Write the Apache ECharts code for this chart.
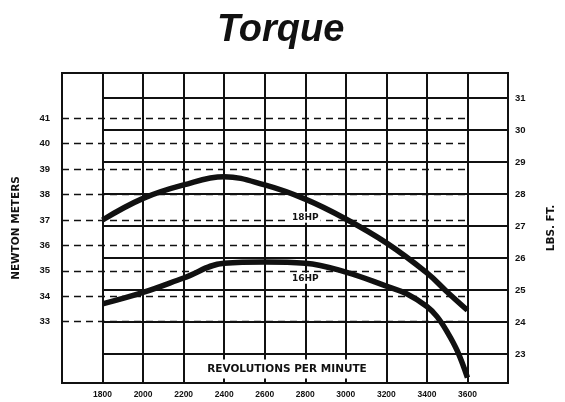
<!DOCTYPE html>
<html>
<head>
<meta charset="utf-8">
<script src="https://cdn.jsdelivr.net/npm/echarts@6/dist/echarts.min.js"></script>
<style>
  html, body { margin: 0; padding: 0; background: #fff; }
  #chart { width: 565px; height: 402px; }
</style>
</head>
<body>
<div id="chart"></div>
<script>
// rpm on the x axis
var rpmTicks = [1800, 2000, 2200, 2400, 2600, 2800, 3000, 3200, 3400, 3600];
var nmTicks = [33, 34, 35, 36, 37, 38, 39, 40, 41];
var lbftTicks = [23, 24, 25, 26, 27, 28, 29, 30, 31];

// torque curves, newton meters
var rpm18 = [1800, 2000, 2200, 2400, 2600, 2800, 3000, 3200, 3400, 3500, 3600];
var nm18 = [37.0, 37.85, 38.38, 38.7, 38.38, 37.82, 37.04, 36.1, 34.92, 34.17, 33.45];
var rpm16 = [1800, 2000, 2200, 2400, 2600, 2800, 3000, 3200, 3300, 3400, 3450, 3500, 3550, 3600];
var nm16 = [33.7, 34.15, 34.72, 35.3, 35.35, 35.3, 34.95, 34.4, 34.1, 33.6, 33.2, 32.6, 31.85, 30.8];

var ink = '#111';
var txt = { color: ink, fontWeight: 'bold', fontFamily: 'Liberation Sans', fontSize: 9 };

function pairs(xs, ys) {
  return xs.map(function (x, i) { return [x, ys[i]]; });
}

var chart = echarts.init(document.getElementById('chart'));

var option = {
  animation: false,
  backgroundColor: '#fff',
  title: {
    text: 'Torque',
    left: 212,
    top: 7,
    textStyle: {
      color: ink, fontSize: 38, fontWeight: 'bold', fontStyle: 'italic',
      fontFamily: 'Liberation Sans'
    }
  },
  grid: {
    left: 62, right: 53, top: 73, bottom: 19,
    show: true, borderColor: ink, borderWidth: 2, backgroundColor: '#fff'
  },
  xAxis: {
    type: 'value',
    min: 1600, max: 3800, interval: 200,
    axisLine: { show: false },
    axisTick: { show: false },
    splitLine: { show: true, lineStyle: { color: ink, width: 2 } },
    axisLabel: Object.assign({
      customValues: rpmTicks, margin: 7,
      formatter: function (v) { return String(v); }
    }, txt, { fontSize: 8.5 })
  },
  yAxis: [
    {
      type: 'value',
      position: 'left',
      min: 30.59, max: 42.78,
      alignTicks: false,
      axisLine: { show: false },
      axisTick: { show: false },
      splitLine: { show: false },
      axisLabel: Object.assign({ customValues: nmTicks, margin: 12 }, txt, { fontSize: 9.5 }),
      name: 'NEWTON METERS',
      nameLocation: 'middle',
      nameRotate: 90,
      nameGap: 40,
      nameTextStyle: { color: ink, fontWeight: 'bold', fontFamily: 'DejaVu Sans', fontSize: 10.5 }
    },
    {
      type: 'value',
      position: 'right',
      min: 22.09, max: 31.78,
      alignTicks: false,
      axisLine: { show: false },
      axisTick: { show: false },
      splitLine: { show: false },
      axisLabel: Object.assign({ customValues: lbftTicks, margin: 7 }, txt, { fontSize: 9.5 }),
      name: 'LBS. FT.',
      nameLocation: 'middle',
      nameRotate: 90,
      nameGap: 38,
      nameTextStyle: { color: ink, fontWeight: 'bold', fontFamily: 'DejaVu Sans', fontSize: 10.5 }
    }
  ],
  series: [
    {
      // dashed newton meter lines
      type: 'line', yAxisIndex: 0, data: [], z: 1, silent: true,
      markLine: {
        silent: true, symbol: 'none',
        label: { show: false },
        lineStyle: { color: ink, width: 1.4, type: [7, 5] },
        data: nmTicks.map(function (v) { return [{ coord: [1600, v] }, { coord: [3600, v] }]; })
      }
    },
    {
      // solid lbs ft lines
      type: 'line', yAxisIndex: 1, data: [], z: 1, silent: true,
      markLine: {
        silent: true, symbol: 'none',
        label: { show: false },
        lineStyle: { color: ink, width: 2, type: 'solid' },
        data: lbftTicks.map(function (v) { return [{ coord: [1800, v] }, { coord: [3800, v] }]; })
      }
    },
    {
      name: '18HP', type: 'line', yAxisIndex: 0, z: 5,
      data: pairs(rpm18, nm18),
      smooth: 0.4, showSymbol: false,
      lineStyle: { color: ink, width: 5.5 },
      markPoint: {
        symbol: 'rect', symbolSize: 0,
        label: {
          show: true, formatter: '18HP', color: ink, fontWeight: 'bold',
          fontFamily: 'DejaVu Sans', fontSize: 9, backgroundColor: '#fff', padding: [1, 2]
        },
        data: [{ coord: [2800, 37.11] }]
      }
    },
    {
      name: '16HP', type: 'line', yAxisIndex: 0, z: 5,
      data: pairs(rpm16, nm16),
      smooth: 0.4, showSymbol: false,
      lineStyle: { color: ink, width: 5.5 },
      markPoint: {
        symbol: 'rect', symbolSize: 0,
        label: {
          show: true, formatter: '16HP', color: ink, fontWeight: 'bold',
          fontFamily: 'DejaVu Sans', fontSize: 9, backgroundColor: '#fff', padding: [1, 2]
        },
        data: [{ coord: [2800, 34.71] }]
      }
    }
  ],
  graphic: [
    {
      type: 'text', x: 287, y: 369, z: 100,
      style: {
        text: 'REVOLUTIONS PER MINUTE',
        align: 'center', verticalAlign: 'middle',
        fill: ink, font: 'bold 10.5px "DejaVu Sans"',
        backgroundColor: '#fff', padding: [4, 14]
      }
    }
  ]
};

chart.setOption(option);
</script>
</body>
</html>
